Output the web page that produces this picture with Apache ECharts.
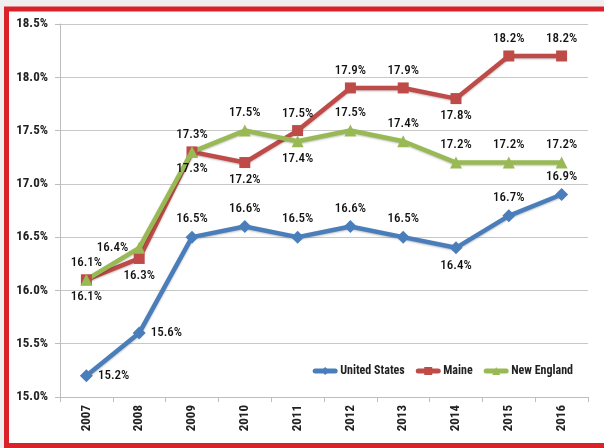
<!DOCTYPE html>
<html>
<head>
<meta charset="utf-8">
<script src="https://cdn.jsdelivr.net/npm/echarts@6/dist/echarts.min.js"></script>
<style>
  html, body { margin: 0; padding: 0; background: #efefef; }
  #chart { width: 604px; height: 448px; }
</style>
</head>
<body>
<div id="chart"></div>
<script>
const years = ["2007", "2008", "2009", "2010", "2011", "2012", "2013", "2014", "2015", "2016"];
const unitedStates = [15.2, 15.6, 16.5, 16.6, 16.5, 16.6, 16.5, 16.4, 16.7, 16.9];
const maine = [16.1, 16.3, 17.3, 17.2, 17.5, 17.9, 17.9, 17.8, 18.2, 18.2];
const newEngland = [16.1, 16.4, 17.3, 17.5, 17.4, 17.5, 17.4, 17.2, 17.2, 17.2];

// where each point's label sits
const usLabelPos = ["right", "right", "top", "top", "top", "top", "top", "bottom", "top", "top"];
const maineLabelPos = ["bottom", "bottom", "bottom", "bottom", "top", "top", "top", "bottom", "top", "top"];
const neLabelPos = ["top", "left", "top", "top", "bottom", "top", "top", "top", "top", "top"];

const FONT = "'Roboto Condensed', 'DejaVu Sans Condensed', 'Liberation Sans Narrow', sans-serif";

function withLabels(values, positions) {
  return values.map((v, i) => ({ value: v, label: { position: positions[i] } }));
}

function lineSeries(name, values, positions, color, symbol, size) {
  return {
    name: name,
    type: "line",
    data: withLabels(values, positions),
    symbol: symbol,
    symbolSize: size,
    lineStyle: {
      color: color,
      width: 4.5,
      shadowColor: "rgba(0,0,0,0.25)",
      shadowBlur: 2,
      shadowOffsetY: 1
    },
    itemStyle: { color: color },
    label: {
      show: true,
      distance: 5,
      fontFamily: FONT,
      fontSize: 13,
      fontWeight: 500,
      color: "#111",
      formatter: p => p.value.toFixed(1) + "%"
    }
  };
}

const chart = echarts.init(document.getElementById("chart"));

chart.setOption({
  animation: false,
  backgroundColor: "#efefef",
  graphic: [
    {
      type: "rect",
      z: -10,
      shape: { x: 6.5, y: 9, width: 620, height: 436.5 },
      style: { fill: "#ffffff", stroke: "#d9222a", lineWidth: 5 }
    }
  ],
  grid: { left: 60, right: 16, top: 24, bottom: 51 },
  legend: {
    right: 26,
    top: 360,
    itemWidth: 20,
    itemHeight: 10,
    itemGap: 11,
    lineStyle: { width: 5, cap: "round", shadowBlur: 0 },
    textStyle: { fontFamily: FONT, fontSize: 12, fontWeight: "bold", color: "#222" },
    data: ["United States", "Maine", "New England"]
  },
  xAxis: {
    type: "category",
    data: years,
    boundaryGap: true,
    axisLine: { lineStyle: { color: "#bdbdbd", width: 1 } },
    axisTick: { show: true, length: 5, lineStyle: { color: "#bdbdbd" } },
    axisLabel: {
      rotate: 90,
      margin: 8,
      fontFamily: FONT,
      fontSize: 13,
      fontWeight: "bold",
      color: "#222"
    }
  },
  yAxis: {
    type: "value",
    min: 15,
    max: 18.5,
    interval: 0.5,
    axisLine: { show: true, lineStyle: { color: "#bdbdbd", width: 1 } },
    axisTick: { show: true, length: 5, lineStyle: { color: "#bdbdbd" } },
    splitLine: { lineStyle: { color: "#c8c8c8", width: 1 } },
    axisLabel: {
      margin: 12,
      fontFamily: FONT,
      fontSize: 13,
      fontWeight: "bold",
      color: "#222",
      formatter: v => v.toFixed(1) + "%"
    }
  },
  series: [
    lineSeries("United States", unitedStates, usLabelPos, "#4a7ebb", "diamond", 13),
    lineSeries("Maine", maine, maineLabelPos, "#be4b48", "rect", 11),
    lineSeries("New England", newEngland, neLabelPos, "#98b954", "triangle", 12)
  ]
});
</script>
</body>
</html>
